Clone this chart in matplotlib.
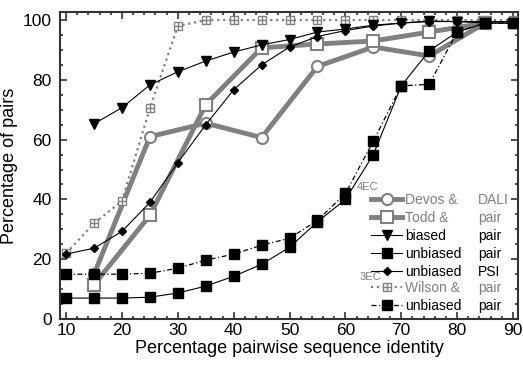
import matplotlib
matplotlib.use("Agg")
import matplotlib.pyplot as plt
from matplotlib.lines import Line2D
from matplotlib.ticker import MultipleLocator
from matplotlib.legend_handler import HandlerTuple

plt.rcParams['font.family'] = ['Liberation Sans', 'DejaVu Sans']

# x positions
x_all = [10, 15, 20, 25, 30, 35, 40, 45, 50, 55, 60, 65, 70, 75, 80, 85, 90]
x_odd = [15, 25, 35, 45, 55, 65, 75, 85]
x_biased = x_all[1:]

# 4EC
devos_dali = [15, 61, 65.5, 60.7, 84.5, 91, 88, 99]
todd_pair = [11.5, 34.7, 71.7, 90.7, 92, 93, 96, 99]
biased_pair = [65.3, 70.7, 78.3, 82.7, 86.3, 89.3, 91.7, 93.5, 96, 97, 98.3, 99,
               99.7, 99.5, 99, 99]
unbiased_pair_4ec = [7, 7, 7, 7.3, 8.7, 11, 14.3, 18.3, 24, 32.5, 40, 55, 78,
                     89.7, 96, 99, 99]
unbiased_psi = [21.7, 23.7, 29.3, 39, 52.3, 65, 76.7, 85, 91, 94.5, 96.5, 98,
                99, 99.5, 99.5, 99.5, 99.5]
# 3EC
wilson_pair = [22, 32, 39.5, 70.5, 98, 100, 100, 100, 100, 100, 100, 100, 100,
               100, 100, 100, 100]
unbiased_pair_3ec = [15, 15, 15, 15.3, 17, 19.7, 21.7, 24.7, 27, 33, 42, 59.5,
                     78, 78.5, 96, 99, 99]

legend_4ec = [("Devos &", "DALI"), ("Todd &", "pair"), ("biased", "pair"),
              ("unbiased", "pair"), ("unbiased", "PSI")]
legend_3ec = [("Wilson &", "pair"), ("unbiased", "pair")]

gray = "#808080"
fig = plt.figure(figsize=(5.23, 3.66), dpi=100)
ax = fig.add_axes([0.1147, 0.1284, 0.8757, 0.8388])

h_devos, = ax.plot(x_odd, devos_dali, "-", color=gray, lw=3.5, marker="o", ms=8,
                   mfc="white", mec=gray, mew=1.5, zorder=2)
h_todd, = ax.plot(x_odd, todd_pair, "-", color=gray, lw=3.5, marker="s", ms=8,
                  mfc="white", mec=gray, mew=1.5, zorder=2)
h_wil1, = ax.plot(x_all, wilson_pair, ":", color=gray, lw=1.6, marker="s", ms=6,
                  mfc="white", mec=gray, mew=1.0, zorder=3)
h_wil2, = ax.plot(x_all, wilson_pair, ls="none", marker="+", ms=6, mec=gray,
                  mew=1.0, zorder=3)
h_biased, = ax.plot(x_biased, biased_pair, "-", color="black", lw=0.8,
                    marker="v", ms=6.5, zorder=4)
h_psi, = ax.plot(x_all, unbiased_psi, "-", color="black", lw=0.8,
                 marker="D", ms=4.5, zorder=4)
h_u4, = ax.plot(x_all, unbiased_pair_4ec, "-", color="black", lw=0.8,
                marker="s", ms=7.5, zorder=5)
h_u3, = ax.plot(x_all, unbiased_pair_3ec, color="black", lw=0.9,
                ls=(0, (4, 2, 1, 2)), marker="s", ms=7.5, zorder=5)

ax.set_xlim(8.9, 90.9)
ax.set_ylim(0, 102.7)
ax.xaxis.set_major_locator(MultipleLocator(10))
ax.xaxis.set_minor_locator(MultipleLocator(2))
ax.yaxis.set_major_locator(MultipleLocator(20))
ax.yaxis.set_minor_locator(MultipleLocator(5))
ax.tick_params(which="both", direction="in", top=True, right=True,
               width=1.2, color="#333333", labelsize=12.5)
ax.tick_params(which="major", length=5)
ax.tick_params(which="minor", length=2.5)
ax.tick_params(axis="x", pad=3)
ax.tick_params(axis="y", pad=6)
for s in ax.spines.values():
    s.set_linewidth(1.5)
    s.set_color("#333333")

ax.set_xlabel("Percentage pairwise sequence identity", fontsize=13, labelpad=1)
ax.set_ylabel("Percentage of pairs", fontsize=13, labelpad=3)

# legends: two text columns via ncol=2 with blank handles
blank = Line2D([], [], ls="none")
def make_legend(handles, labels, colors, y):
    lbls = [a for a, b in labels] + [b for a, b in labels]
    hs = list(handles) + [blank] * len(handles)
    leg = ax.legend(hs, lbls, ncol=2, loc="upper left", bbox_to_anchor=(0.68, y),
                    frameon=False, fontsize=10, handlelength=2.2,
                    handletextpad=0.2, labelspacing=0.28, borderpad=0,
                    borderaxespad=0, columnspacing=-1.2,
                    handler_map={tuple: HandlerTuple(ndivide=1)})
    for t, c in zip(leg.get_texts(), colors + colors):
        t.set_color(c)
    return leg

leg1 = make_legend([h_devos, h_todd, h_biased, h_u4, h_psi], legend_4ec,
                   [gray, gray, "black", "black", "black"], 0.41)
ax.add_artist(leg1)
leg2 = make_legend([(h_wil1, h_wil2), h_u3], legend_3ec, [gray, "black"], 0.125)

ax.text(0.648, 0.43, "4EC", transform=ax.transAxes, fontsize=8, color=gray,
        va="center", ha="left")
ax.text(0.655, 0.137, "3EC", transform=ax.transAxes, fontsize=8, color=gray,
        va="center", ha="left")

fig.savefig("out.png", dpi=100)
